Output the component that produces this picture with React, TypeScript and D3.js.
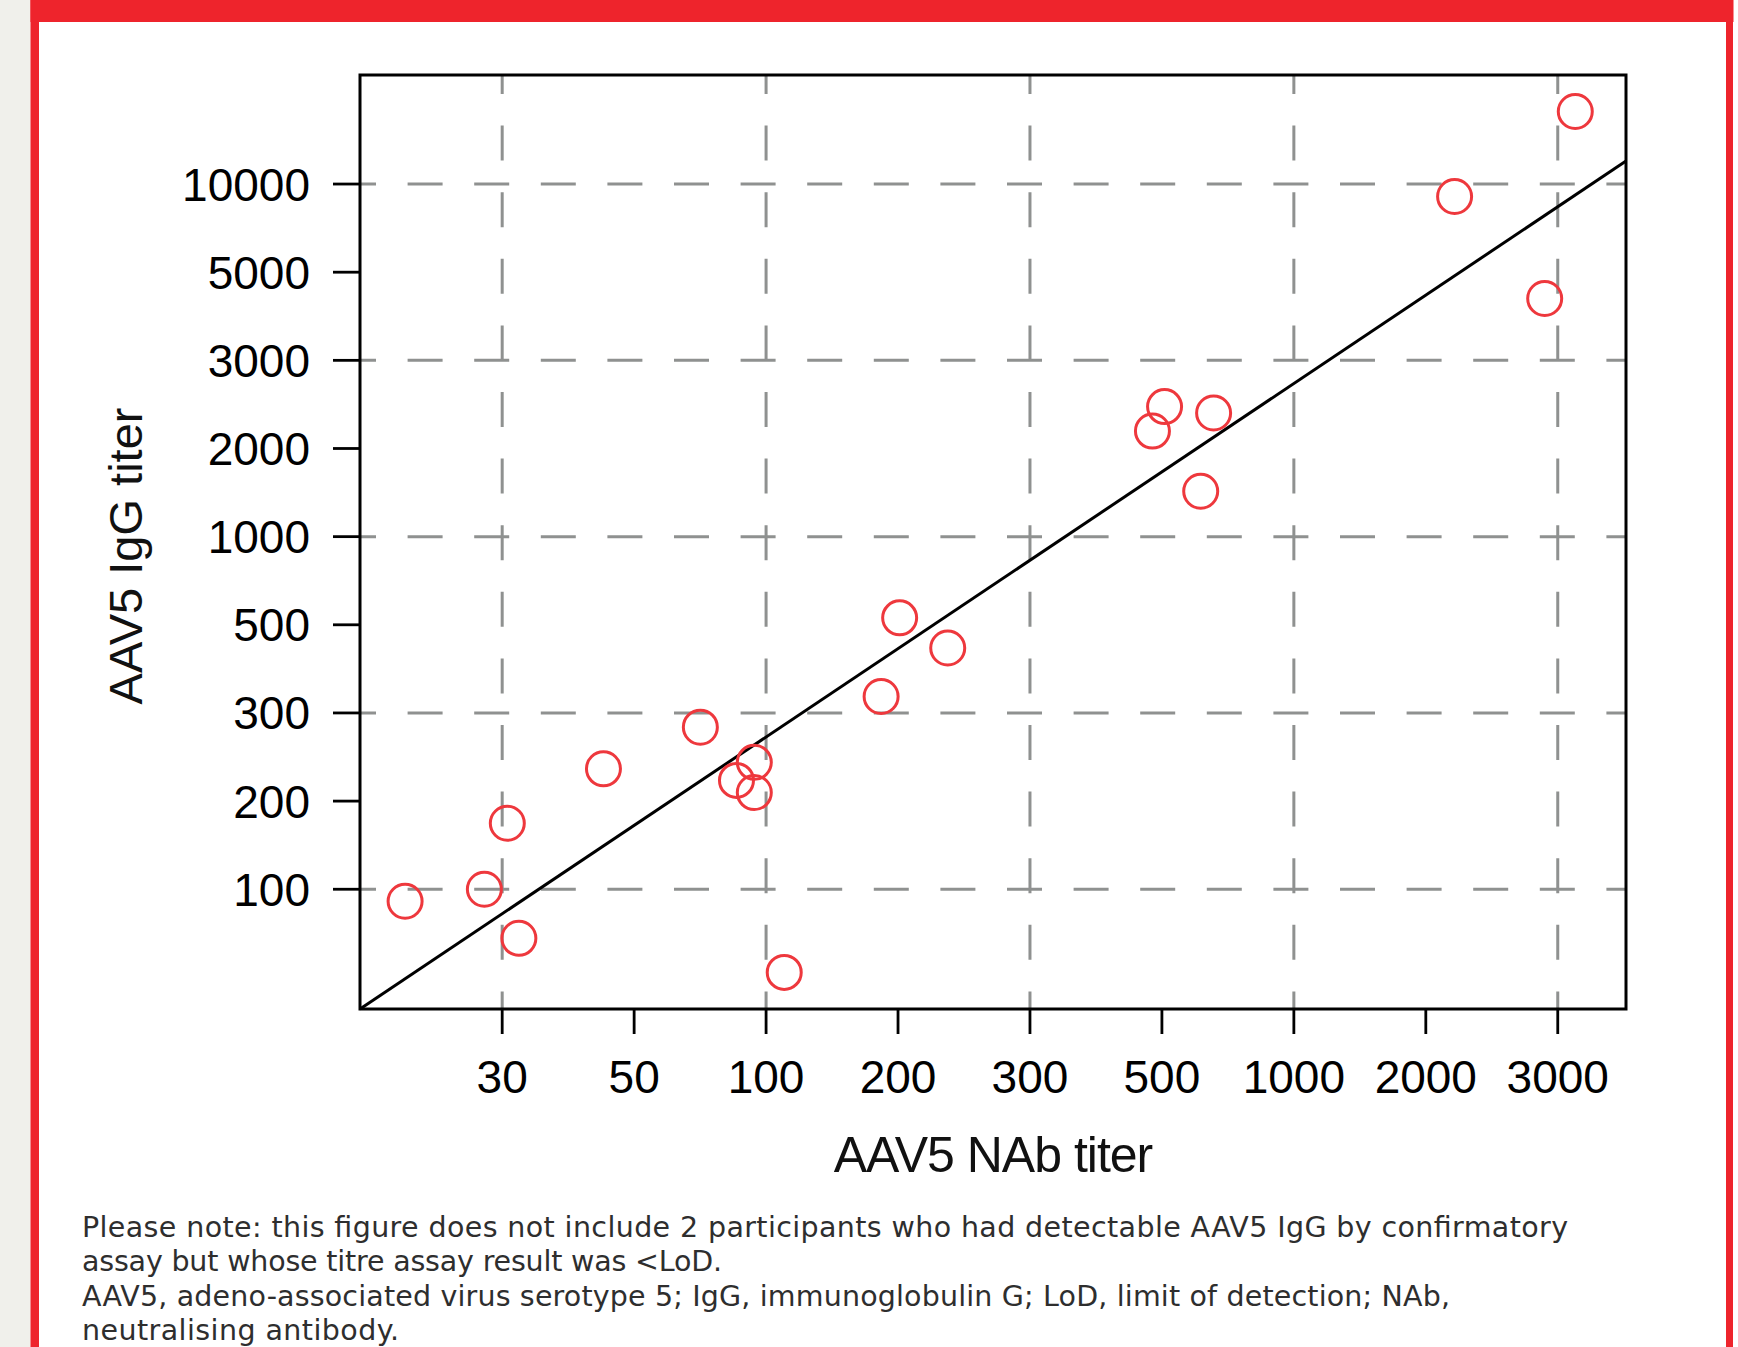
import React from "react";
import * as d3 from "d3";

// ---- data ----
const xTicks = [30, 50, 100, 200, 300, 500, 1000, 2000, 3000];
const yTicks = [100, 200, 300, 500, 1000, 2000, 3000, 5000, 10000];
const xGridTicks = [30, 100, 300, 1000, 3000];
const yGridTicks = [100, 300, 1000, 3000, 10000];
const xDomain = [17.3, 3700];
const yDomain = [39, 23570];

const nabTiter = [20.6, 28, 30.6, 32, 44.4, 70.8, 85.6, 94, 94, 110, 183, 201, 233, 482, 507, 656, 613, 2185, 2882, 3166];
const iggTiter = [91, 100, 168, 68, 232, 281, 220, 239, 208, 52, 330, 528, 437, 2167, 2425, 2355, 1429, 9065, 4292, 17690];

const fitNab = [17.3, 3700];
const fitIgg = [39, 11985];

const xTitle = "AAV5 NAb titer";
const yTitle = "AAV5 IgG titer";
const footnote = [
  "Please note: this figure does not include 2 participants who had detectable AAV5 IgG by confirmatory",
  "assay but whose titre assay result was <LoD.",
  "AAV5, adeno-associated virus serotype 5; IgG, immunoglobulin G; LoD, limit of detection; NAb,",
  "neutralising antibody.",
];
const footnoteWidths = [1486, 640, 1368, 317];

// ---- layout ----
const W = 1738, H = 1347;
const L = 360, R = 1626, T = 75, B = 1009;

const xIdx = d3.scaleLinear().domain(xTicks.map(Math.log10)).range(xTicks.map((_, i) => i));
const yIdx = d3.scaleLinear().domain(yTicks.map(Math.log10)).range(yTicks.map((_, i) => i));
const xPix = d3.scaleLinear().domain(xDomain.map((v) => xIdx(Math.log10(v)))).range([L, R]);
const yPix = d3.scaleLinear().domain(yDomain.map((v) => yIdx(Math.log10(v)))).range([B, T]);
const x = (v: number) => xPix(xIdx(Math.log10(v)));
const y = (v: number) => yPix(yIdx(Math.log10(v)));

const RED = "#ee242c";
const PT = "#ee383d";
const GRID = "#8f9190";
const FONT = "'Liberation Sans', Arial, Helvetica, sans-serif";

export default function App() {
  const line = d3.line<number>()
    .x((_, i) => x(fitNab[i]))
    .y((d) => y(d));
  return (
    <svg width={W} height={H} style={{ position: "absolute", left: 0, top: 0, background: "#fff" }}>
      <rect x={0} y={0} width={W} height={H} fill="#fff" />
      <rect x={0} y={0} width={30.5} height={H} fill="#f0f0eb" />
      <rect x={30.5} y={0} width={1703} height={22} fill={RED} />
      <rect x={30.5} y={0} width={8.5} height={H} fill={RED} />
      <rect x={1726} y={0} width={7} height={H} fill={RED} />

      {/* grid */}
      {xGridTicks.map((t) => (
        <line key={"gx" + t} x1={x(t)} x2={x(t)} y1={T} y2={B} stroke={GRID} strokeWidth={3}
          strokeDasharray="35 31.6" strokeDashoffset={16} />
      ))}
      {yGridTicks.map((t) => (
        <line key={"gy" + t} x1={L} x2={R} y1={y(t)} y2={y(t)} stroke={GRID} strokeWidth={3}
          strokeDasharray="35 31.6" strokeDashoffset={19} />
      ))}

      {/* fit line */}
      <path d={line(fitIgg) || ""} fill="none" stroke="#000" strokeWidth={3} />

      {/* points */}
      {nabTiter.map((v, i) => (
        <circle key={"p" + i} cx={x(v)} cy={y(iggTiter[i])} r={17} fill="none" stroke={PT} strokeWidth={3} />
      ))}

      {/* frame */}
      <rect x={L} y={T} width={R - L} height={B - T} fill="none" stroke="#000" strokeWidth={3} />

      {/* x axis */}
      {xTicks.map((t) => (
        <g key={"xt" + t}>
          <line x1={x(t)} x2={x(t)} y1={B} y2={B + 25} stroke="#000" strokeWidth={2.8} />
          <text x={x(t)} y={1093} textAnchor="middle" fontFamily={FONT} fontSize={46} fill="#000">{t}</text>
        </g>
      ))}
      {/* y axis */}
      {yTicks.map((t) => (
        <g key={"yt" + t}>
          <line x1={L - 27} x2={L} y1={y(t)} y2={y(t)} stroke="#000" strokeWidth={2.8} />
          <text x={310} y={y(t) + 16.5} textAnchor="end" fontFamily={FONT} fontSize={46} fill="#000">{t}</text>
        </g>
      ))}

      <text x={(L + R) / 2} y={1172} textAnchor="middle" fontFamily={FONT} fontSize={50} letterSpacing={-1} fill="#111">{xTitle}</text>
      <text transform="translate(142,556) rotate(-90)" textAnchor="middle" fontFamily={FONT} fontSize={47} fill="#111">{yTitle}</text>

      {footnote.map((s, i) => (
        <text key={"f" + i} x={82} y={1237 + i * 34.4} fontFamily="'DejaVu Sans', sans-serif" fontSize={28.5}
          textLength={footnoteWidths[i]} lengthAdjust="spacing" fill="#2e2e2e">{s}</text>
      ))}
    </svg>
  );
}
